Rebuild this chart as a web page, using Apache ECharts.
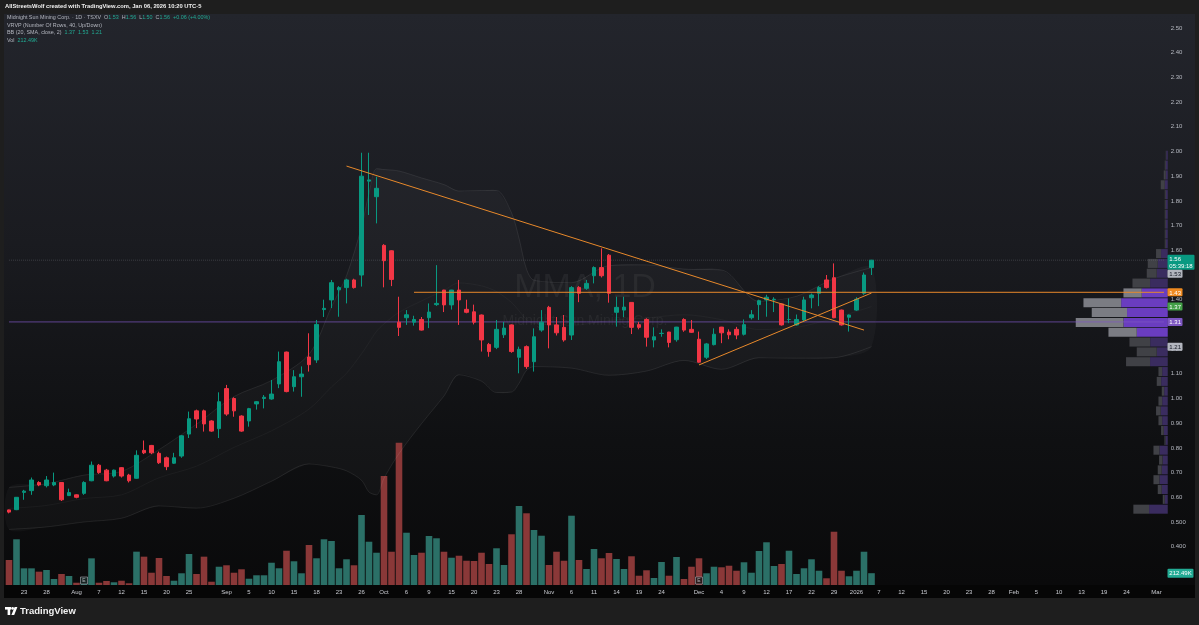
<!DOCTYPE html>
<html>
<head>
<meta charset="utf-8">
<script src="https://cdn.jsdelivr.net/npm/echarts/dist/echarts.min.js"></script>
<style>
html,body{margin:0;padding:0;background:#1e1e1e;width:1199px;height:625px;overflow:hidden}
#area{position:absolute;left:4px;top:14px;width:1191px;height:571px;background:linear-gradient(180deg,#23252c 0%,#1a1b20 40%,#0f1012 75%,#0a0a0b 100%)}
#strip{position:absolute;left:4px;top:585px;width:1191px;height:13px;background:#060606}
#main{position:absolute;left:0;top:0;width:1199px;height:625px}
</style>
</head>
<body>
<div id="area"></div><div id="strip"></div><div id="main"></div>
<script>
// ---------------- DATA ----------------
const dates = [
'2025-07-21','2025-07-22','2025-07-23','2025-07-24','2025-07-25','2025-07-28','2025-07-29','2025-07-30','2025-07-31',
'2025-08-01','2025-08-05','2025-08-06','2025-08-07','2025-08-08','2025-08-11','2025-08-12','2025-08-13','2025-08-14','2025-08-15',
'2025-08-18','2025-08-19','2025-08-20','2025-08-21','2025-08-22','2025-08-25','2025-08-26','2025-08-27','2025-08-28','2025-08-29',
'2025-09-02','2025-09-03','2025-09-04','2025-09-05','2025-09-08','2025-09-09','2025-09-10','2025-09-11','2025-09-12','2025-09-15',
'2025-09-16','2025-09-17','2025-09-18','2025-09-19','2025-09-22','2025-09-23','2025-09-24','2025-09-25','2025-09-26','2025-09-29','2025-09-30',
'2025-10-01','2025-10-02','2025-10-03','2025-10-06','2025-10-07','2025-10-08','2025-10-09','2025-10-10','2025-10-14','2025-10-15',
'2025-10-16','2025-10-17','2025-10-20','2025-10-21','2025-10-22','2025-10-23','2025-10-24','2025-10-27','2025-10-28','2025-10-29','2025-10-30','2025-10-31',
'2025-11-03','2025-11-04','2025-11-05','2025-11-06','2025-11-07','2025-11-10','2025-11-11','2025-11-12','2025-11-13','2025-11-14',
'2025-11-17','2025-11-18','2025-11-19','2025-11-20','2025-11-21','2025-11-24','2025-11-25','2025-11-26','2025-11-27','2025-11-28',
'2025-12-01','2025-12-02','2025-12-03','2025-12-04','2025-12-05','2025-12-08','2025-12-09','2025-12-10','2025-12-11','2025-12-12',
'2025-12-15','2025-12-16','2025-12-17','2025-12-18','2025-12-19','2025-12-22','2025-12-23','2025-12-24','2025-12-29','2025-12-30','2025-12-31',
'2026-01-02','2026-01-05','2026-01-06','2026-01-07','2026-01-08','2026-01-09','2026-01-12','2026-01-13','2026-01-14','2026-01-15','2026-01-16',
'2026-01-19','2026-01-20','2026-01-21','2026-01-22','2026-01-23','2026-01-26','2026-01-27','2026-01-28','2026-01-29','2026-01-30',
'2026-02-02','2026-02-03','2026-02-04','2026-02-05','2026-02-06','2026-02-09','2026-02-10','2026-02-11','2026-02-12','2026-02-13',
'2026-02-17','2026-02-18','2026-02-19','2026-02-20','2026-02-23','2026-02-24','2026-02-25','2026-02-26','2026-02-27','2026-03-02','2026-03-03'];

const tickLabels = [
['2025-07-23','23'],['2025-07-28','28'],['2025-08-01','Aug'],['2025-08-07','7'],['2025-08-12','12'],['2025-08-15','15'],
['2025-08-20','20'],['2025-08-25','25'],['2025-09-02','Sep'],['2025-09-05','5'],['2025-09-10','10'],['2025-09-15','15'],
['2025-09-18','18'],['2025-09-23','23'],['2025-09-26','26'],['2025-10-01','Oct'],['2025-10-06','6'],['2025-10-09','9'],
['2025-10-15','15'],['2025-10-20','20'],['2025-10-23','23'],['2025-10-28','28'],['2025-11-03','Nov'],['2025-11-06','6'],
['2025-11-11','11'],['2025-11-14','14'],['2025-11-19','19'],['2025-11-24','24'],['2025-12-01','Dec'],['2025-12-04','4'],
['2025-12-09','9'],['2025-12-12','12'],['2025-12-17','17'],['2025-12-22','22'],['2025-12-29','29'],['2026-01-02','2026'],
['2026-01-07','7'],['2026-01-12','12'],['2026-01-15','15'],['2026-01-20','20'],['2026-01-23','23'],['2026-01-28','28'],
['2026-02-02','Feb'],['2026-02-05','5'],['2026-02-10','10'],['2026-02-13','13'],['2026-02-19','19'],['2026-02-24','24'],['2026-03-02','Mar']];

const opens = [0.549,0.55,0.62,0.627,0.66,0.647,0.65,0.66,0.607,0.61,
0.616,0.667,0.73,0.71,0.686,0.72,0.69,0.677,0.79,0.81,
0.778,0.76,0.738,0.767,0.856,0.95,0.95,0.909,0.878,1.04,
1.0,0.929,0.909,0.978,1.0,0.998,1.059,1.188,1.048,1.088,
1.168,1.156,1.36,1.399,1.44,1.449,1.48,1.50,1.88,1.817,
1.62,1.598,1.309,1.327,1.309,1.32,1.327,1.38,1.439,1.379,
1.439,1.361,1.351,1.338,1.219,1.207,1.258,1.298,1.167,1.21,
1.149,1.277,1.369,1.298,1.288,1.257,1.45,1.446,1.497,1.53,
1.58,1.349,1.358,1.389,1.299,1.32,1.237,1.263,1.269,1.238,
1.32,1.28,1.24,1.167,1.218,1.289,1.269,1.28,1.26,1.327,
1.38,1.399,1.40,1.383,1.32,1.298,1.318,1.408,1.426,1.48,
1.489,1.358,1.329,1.358,1.426,1.53];
const highs = [0.55,0.60,0.63,0.68,0.665,0.686,0.70,0.662,0.635,0.612,
0.665,0.745,0.735,0.715,0.712,0.722,0.695,0.79,0.83,0.812,
0.785,0.765,0.78,0.852,0.947,0.955,0.955,0.912,1.025,1.055,
1.005,0.932,0.962,0.99,1.014,1.075,1.19,1.19,1.115,1.13,
1.264,1.318,1.40,1.48,1.455,1.485,1.485,1.995,1.995,1.898,
1.625,1.60,1.412,1.358,1.335,1.33,1.385,1.54,1.44,1.44,
1.48,1.40,1.38,1.34,1.225,1.318,1.31,1.30,1.21,1.215,
1.284,1.358,1.375,1.33,1.338,1.455,1.455,1.48,1.535,1.608,
1.585,1.412,1.412,1.39,1.31,1.325,1.288,1.28,1.27,1.29,
1.325,1.318,1.271,1.225,1.284,1.29,1.28,1.29,1.32,1.358,
1.40,1.42,1.41,1.385,1.405,1.34,1.412,1.425,1.455,1.50,
1.547,1.36,1.34,1.41,1.51,1.56];
const lows = [0.535,0.548,0.59,0.61,0.645,0.64,0.645,0.585,0.605,0.596,
0.61,0.665,0.695,0.665,0.68,0.68,0.66,0.675,0.775,0.775,
0.735,0.71,0.735,0.76,0.84,0.88,0.866,0.865,0.84,0.93,
0.926,0.865,0.886,0.955,0.96,0.995,1.042,1.025,1.028,1.007,
1.109,1.144,1.33,1.366,1.331,1.385,1.445,1.453,1.743,1.709,
1.45,1.455,1.253,1.298,1.295,1.275,1.285,1.375,1.35,1.36,
1.298,1.345,1.30,1.19,1.169,1.20,1.245,1.185,1.102,1.12,
1.109,1.27,1.203,1.255,1.23,1.237,1.39,1.44,1.466,1.49,
1.388,1.291,1.329,1.261,1.28,1.21,1.207,1.25,1.207,1.23,
1.27,1.265,1.145,1.16,1.215,1.224,1.24,1.24,1.255,1.32,
1.318,1.331,1.35,1.295,1.305,1.295,1.31,1.365,1.374,1.445,
1.325,1.295,1.271,1.355,1.42,1.50];
const closes = [0.54,0.60,0.625,0.67,0.65,0.67,0.66,0.59,0.619,0.60,
0.66,0.73,0.70,0.667,0.71,0.686,0.667,0.77,0.78,0.78,
0.74,0.724,0.76,0.849,0.918,0.917,0.897,0.868,0.987,0.937,
0.95,0.868,0.959,0.987,1.005,1.018,1.149,1.028,1.088,1.099,
1.137,1.30,1.365,1.469,1.449,1.48,1.449,1.90,1.885,1.851,
1.558,1.482,1.288,1.339,1.32,1.277,1.35,1.385,1.379,1.439,
1.399,1.349,1.309,1.237,1.19,1.28,1.285,1.19,1.199,1.129,
1.25,1.309,1.298,1.266,1.237,1.449,1.426,1.466,1.53,1.497,
1.426,1.369,1.37,1.288,1.288,1.248,1.25,1.264,1.227,1.289,
1.277,1.268,1.147,1.221,1.26,1.266,1.258,1.257,1.299,1.339,
1.396,1.41,1.402,1.298,1.32,1.32,1.399,1.419,1.449,1.449,
1.327,1.298,1.338,1.402,1.50,1.56];
const volumesK = [450,823,300,300,240,270,108,198,162,41,
144,480,41,72,49,77,31,600,510,221,
486,162,77,211,558,198,510,59,329,355,
221,283,113,175,175,401,301,617,427,211,
720,481,823,792,301,463,355,1260,779,581,
1962,599,2561,941,540,581,882,841,599,491,
527,437,432,581,378,661,360,913,1422,1291,
990,887,360,599,437,1247,450,288,648,481,
576,468,288,517,167,265,126,414,167,504,
108,329,481,211,329,319,347,257,409,221,
612,769,342,378,617,198,301,463,257,121,
959,257,157,257,599,212.49];
const earningsDates = ['2025-08-05','2025-12-01'];

// Bollinger Bands (20, SMA, close, 2) at sample bars
const bbIdx   = [0,5,10,15,20,25,30,35,40,43,45,47,48,49,50,52,55,58,60,63,65,67,68,69,70,75,80,85,90,95,100,105,110,115];
const bbUpper = [0.64,0.655,0.69,0.705,0.793,0.896,1.008,1.073,1.179,1.371,1.497,1.694,1.831,1.93,1.927,1.921,1.893,1.866,1.84,1.842,1.842,1.752,1.649,1.524,1.479,1.469,1.538,1.541,1.524,1.52,1.393,1.414,1.485,1.53];
const bbBasis = [0.555,0.567,0.595,0.61,0.679,0.726,0.802,0.869,0.957,1.047,1.102,1.181,1.226,1.272,1.302,1.349,1.395,1.438,1.468,1.456,1.433,1.389,1.355,1.319,1.304,1.296,1.316,1.326,1.339,1.319,1.279,1.288,1.325,1.372];
const bbLower = [0.47,0.48,0.50,0.515,0.565,0.556,0.596,0.665,0.735,0.723,0.707,0.669,0.621,0.61,0.677,0.777,0.898,1.01,1.096,1.07,1.024,1.026,1.061,1.114,1.129,1.123,1.094,1.111,1.154,1.118,1.165,1.163,1.165,1.21];

// Visible-range volume profile (rows from bottom)
const vpRowLow = 0.532, vpRowStep = 0.0398;
const vpUp   = [1570,200,400,600,400,350,600,100,270,370,470,370,240,440,370,2400,2000,2070,2830,4770,3530,3770,1830,1760,1000,1000,500,100,100,100,100,100,100,400,200,100,50];
const vpDown = [1870,300,600,830,600,520,830,230,400,560,700,560,360,660,560,1770,1100,1760,3100,4430,4070,4660,2600,1770,1100,1000,670,200,200,200,200,200,200,300,200,200,150];
const vpValueAreaRows = [18, 22];
const pocPrice = 1.31;

// drawings
const trendDesc = [['2025-09-24', 1.941], ['2026-01-05', 1.277]];
const levelLine = [['2025-10-07', 1.43], ['2026-03-03', 1.43]];
const trendAsc  = [['2025-12-01', 1.136], ['2026-01-06', 1.427]];
const countdown = '05:39:18';

// ---------------- CHART ----------------
const FONT = "'Liberation Sans', Arial, sans-serif";
const UP = '#089981', DOWN = '#f23645', VUP = '#2b7067', VDOWN = '#8a3838';
const ORANGE = '#e8892b';
const LAST = closes.length - 1;
const GL = 5.25, GR = 31.25;
const tickMap = new Map(tickLabels);
const dateIndex = d => dates.indexOf(d);

const chart = echarts.init(document.getElementById('main'), null, {renderer: 'canvas'});

const candleData = opens.map((o, i) => [o, closes[i], lows[i], highs[i]]);
const volData = volumesK.map((v, i) => ({value: v, itemStyle: {color: closes[i] >= opens[i] ? VUP : VDOWN}}));
const pairs = arr => bbIdx.map((ix, k) => [ix, arr[k]]);
const segment = seg => seg.map(p => [dateIndex(p[0]), p[1]]);

const option = {
  animation: false,
  backgroundColor: 'transparent',
  grid: [
    {left: GL, right: GR, top: 3.3, bottom: 28.9},
    {left: GL, right: GR, top: 385, bottom: 40},
    {left: GL, right: GR, top: 585, bottom: 39}
  ],
  xAxis: [
    {type: 'category', gridIndex: 0, data: dates, boundaryGap: true, show: false},
    {type: 'value', gridIndex: 0, min: 0, max: 116250, inverse: true, position: 'top', show: false},
    {type: 'category', gridIndex: 1, data: dates, boundaryGap: true, show: false},
    {type: 'category', gridIndex: 2, data: dates, boundaryGap: true, position: 'bottom',
      axisLine: {show: false}, axisTick: {show: false}, splitLine: {show: false},
      axisLabel: {show: true, interval: (i, v) => tickMap.has(v), formatter: v => tickMap.get(v) || '',
        color: '#c9cbd1', fontSize: 6, fontFamily: FONT, margin: 3, hideOverlap: false}}
  ],
  yAxis: [
    {type: 'value', gridIndex: 0, position: 'right', min: 0.2, max: 2.6, interval: 0.1,
      axisLine: {show: false}, axisTick: {show: false}, splitLine: {show: false},
      axisLabel: {color: '#b7bac2', fontSize: 6, fontFamily: FONT, margin: 3,
        formatter: v => { const r = Math.round(v * 100) / 100; if (r < 0.35 || r > 2.55) return ''; return r < 0.55 ? r.toFixed(3) : r.toFixed(2); }}},
    {type: 'value', gridIndex: 1, min: 0, max: 3600, show: false},
    {type: 'value', gridIndex: 2, min: 0, max: 1, show: false}
  ],
  series: [
    {type: 'custom', name: 'bbfill', xAxisIndex: 0, yAxisIndex: 0, data: [[0, bbBasis[0]]], encode: {x: 0, y: 1}, silent: true, z: 1,
      renderItem: (params, api) => {
        const up = bbIdx.map((ix, k) => api.coord([ix, bbUpper[k]]));
        const lo = bbIdx.map((ix, k) => api.coord([ix, bbLower[k]])).reverse();
        return {type: 'polygon', shape: {points: up.concat(lo), smooth: 0.3},
          style: {fill: 'rgba(255,255,255,0.028)'}};
      }},
    {type: 'line', name: 'bbU', xAxisIndex: 0, yAxisIndex: 0, data: pairs(bbUpper), smooth: 0.3, symbol: 'none', silent: true, z: 2,
      lineStyle: {color: 'rgba(255,255,255,0.08)', width: 1}},
    {type: 'line', name: 'bbL', xAxisIndex: 0, yAxisIndex: 0, data: pairs(bbLower), smooth: 0.3, symbol: 'none', silent: true, z: 2,
      lineStyle: {color: 'rgba(255,255,255,0.08)', width: 1}},
    {type: 'line', name: 'bbB', xAxisIndex: 0, yAxisIndex: 0, data: pairs(bbBasis), smooth: 0.3, symbol: 'none', silent: true, z: 2,
      lineStyle: {color: 'rgba(255,255,255,0.035)', width: 1}},
    {type: 'custom', name: 'vrvp', xAxisIndex: 1, yAxisIndex: 0, encode: {x: 0, y: 1},
      data: vpUp.map((u, r) => [vpUp[r] + vpDown[r], vpRowLow + r * vpRowStep]), silent: true, z: 3,
      renderItem: (params, api) => {
        const r = params.dataIndex;
        const lo = vpRowLow + r * vpRowStep, hi = lo + vpRowStep;
        const inVA = r >= vpValueAreaRows[0] && r <= vpValueAreaRows[1];
        const pBase = api.coord([0, lo]);
        const pDn = api.coord([vpDown[r], hi]);
        const pAll = api.coord([vpDown[r] + vpUp[r], hi]);
        const h = pBase[1] - pDn[1] - 0.8;
        return {type: 'group', children: [
          {type: 'rect', shape: {x: pDn[0], y: pDn[1] + 0.4, width: pBase[0] - pDn[0], height: h},
            style: {fill: inVA ? '#6a3dc0' : '#3a2c5f'}},
          {type: 'rect', shape: {x: pAll[0], y: pDn[1] + 0.4, width: pDn[0] - pAll[0], height: h},
            style: {fill: inVA ? '#7b7c83' : '#404146'}}
        ]};
      }},
    {type: 'candlestick', name: 'MMA', xAxisIndex: 0, yAxisIndex: 0, data: candleData, barWidth: 4, z: 5,
      itemStyle: {color: UP, color0: DOWN, borderColor: UP, borderColor0: DOWN, borderWidth: 1}},
    {type: 'line', name: 'poc', xAxisIndex: 0, yAxisIndex: 0, data: [[0, pocPrice], [dates.length - 1, pocPrice]], symbol: 'none', silent: true, z: 4,
      lineStyle: {color: 'rgba(126,87,194,0.7)', width: 1}},
    {type: 'line', name: 'lastPrice', xAxisIndex: 0, yAxisIndex: 0, data: [[0, closes[LAST]], [dates.length - 1, closes[LAST]]], symbol: 'none', silent: true, z: 4,
      lineStyle: {color: 'rgba(120,123,134,0.35)', width: 1, type: 'dotted'}},
    {type: 'line', name: 'desc', xAxisIndex: 0, yAxisIndex: 0, data: segment(trendDesc), symbol: 'none', silent: true, z: 6,
      lineStyle: {color: ORANGE, width: 1}},
    {type: 'line', name: 'level', xAxisIndex: 0, yAxisIndex: 0, data: segment(levelLine), symbol: 'none', silent: true, z: 6,
      lineStyle: {color: ORANGE, width: 1}},
    {type: 'line', name: 'asc', xAxisIndex: 0, yAxisIndex: 0, data: segment(trendAsc), symbol: 'none', silent: true, z: 6,
      lineStyle: {color: ORANGE, width: 1}},
    {type: 'bar', name: 'Vol', xAxisIndex: 2, yAxisIndex: 1, data: volData, barCategoryGap: '12%', z: 2, silent: true},
    {type: 'scatter', name: 'E', xAxisIndex: 2, yAxisIndex: 1, data: earningsDates.map(d => [dateIndex(d), 0]), silent: true, z: 7,
      symbol: 'rect', symbolSize: [7, 7], symbolOffset: [0, -4.5],
      itemStyle: {color: '#121212', borderColor: '#a3a6ae', borderWidth: 0.8},
      label: {show: true, formatter: 'E', color: '#d1d4dc', fontSize: 5, fontFamily: FONT, position: 'inside'}}
  ]
};
try { chart.setOption(option); } catch (e) { console.error(e); }

// ---------------- TEXT & LABEL BOXES ----------------
const f2 = v => v.toFixed(2);
const chg = closes[LAST] - closes[LAST - 1];
const pct = chg / closes[LAST - 1] * 100;
const chgTxt = (chg >= 0 ? '+' : '') + f2(chg) + ' (' + (pct >= 0 ? '+' : '') + f2(pct) + '%)';
const LFS = 5.4;
const rich = {
  n: {fill: '#b2b5be', fontSize: LFS, fontFamily: FONT},
  v: {fill: '#22ab94', fontSize: LFS, fontFamily: FONT}
};
const els = [];
els.push({type: 'text', x: 5, y: 6.5, z: 100, style: {text: 'AllStreetsWolf created with TradingView.com, Jan 06, 2026 10:20 UTC-5',
  fill: '#f0f0f0', fontSize: 5.8, fontWeight: 'bold', fontFamily: FONT, verticalAlign: 'middle'}});
const legend = [
  '{n|Midnight Sun Mining Corp. · 1D · TSXV}  {n|O}{v|' + f2(opens[LAST]) + '}  {n|H}{v|' + f2(highs[LAST]) + '}  {n|L}{v|' + f2(lows[LAST]) +
    '}  {n|C}{v|' + f2(closes[LAST]) + '}  {v|' + chgTxt + '}',
  '{n|VRVP (Number Of Rows, 40, Up/Down)}',
  '{n|BB (20, SMA, close, 2)}  {v|' + f2(bbBasis[bbBasis.length - 1]) + '}  {v|' + f2(bbUpper[bbUpper.length - 1]) + '}  {v|' + f2(bbLower[bbLower.length - 1]) + '}',
  '{n|Vol}  {v|' + volumesK[LAST].toFixed(2) + 'K}'
];
legend.forEach((t, k) => els.push({type: 'text', x: 7, y: 18 + k * 7.4, z: 100,
  style: {text: t, rich: rich, fontSize: LFS, fontFamily: FONT, verticalAlign: 'middle'}}));

// watermark
els.push({type: 'text', x: 585, y: 288, z: 0, silent: true, style: {text: 'MMA, 1D', fill: 'rgba(255,255,255,0.055)',
  fontSize: 34, fontFamily: FONT, align: 'center', verticalAlign: 'middle'}});
els.push({type: 'text', x: 585, y: 321, z: 0, silent: true, style: {text: 'Midnight Sun Mining Corp.', fill: 'rgba(255,255,255,0.055)',
  fontSize: 14, fontFamily: FONT, align: 'center', verticalAlign: 'middle'}});

// footer logo
els.push({type: 'rect', z: 100, shape: {x: 5, y: 607, width: 6, height: 2.6}, style: {fill: '#fff'}});
els.push({type: 'rect', z: 100, shape: {x: 7.6, y: 607, width: 2.6, height: 8}, style: {fill: '#fff'}});
els.push({type: 'circle', z: 100, shape: {cx: 12.6, cy: 608.4, r: 1.4}, style: {fill: '#fff'}});
els.push({type: 'polygon', z: 100, shape: {points: [[11.4, 615], [14.6, 607], [17.4, 607], [14.2, 615]]}, style: {fill: '#fff'}});
els.push({type: 'text', x: 20, y: 611.5, z: 100, style: {text: 'TradingView', fill: '#f2f2f2', fontSize: 9.5, fontWeight: 'bold',
  fontFamily: FONT, verticalAlign: 'middle'}});

// price-scale label boxes
const BX = 1167.5;
const boxes = [
  {price: closes[LAST], text: f2(closes[LAST]) + '\n' + countdown, bg: '#089981', fg: '#ffffff', w: 27, h: 15, off: 5.5},
  {price: bbUpper[bbUpper.length - 1], text: f2(bbUpper[bbUpper.length - 1]), bg: '#b2b5be', fg: '#131722', w: 15, h: 8},
  {price: levelLine[0][1], text: f2(levelLine[0][1]), bg: '#ef8a20', fg: '#ffffff', w: 15, h: 8},
  {price: bbBasis[bbBasis.length - 1], text: f2(bbBasis[bbBasis.length - 1]), bg: '#43a047', fg: '#ffffff', w: 15, h: 8},
  {price: pocPrice, text: f2(pocPrice), bg: '#7e57c2', fg: '#ffffff', w: 15, h: 8},
  {price: bbLower[bbLower.length - 1], text: f2(bbLower[bbLower.length - 1]), bg: '#b2b5be', fg: '#131722', w: 15, h: 8}
];
let vy = 573;
try {
  boxes.forEach(b => { const y = chart.convertToPixel({yAxisIndex: 0}, b.price); b.top = y - (b.off != null ? b.off : b.h / 2); });
  vy = chart.convertToPixel({yAxisIndex: 1}, volumesK[LAST]);
} catch (e) { console.error(e); }
boxes.sort((a, b) => a.top - b.top);
let prevBottom = -1e9;
boxes.forEach(b => {
  if (b.top < prevBottom) b.top = prevBottom;
  prevBottom = b.top + b.h;
  els.push({type: 'rect', z: 200, shape: {x: BX, y: b.top, width: b.w, height: b.h, r: 1}, style: {fill: b.bg}});
  els.push({type: 'text', z: 201, x: BX + 1.8, y: b.top + 1.2, style: {text: b.text, fill: b.fg, fontSize: 6, lineHeight: 6.8,
    fontFamily: FONT, verticalAlign: 'top'}});
});
els.push({type: 'rect', z: 200, shape: {x: BX, y: vy - 4.5, width: 26, height: 9, r: 1}, style: {fill: '#22ab94'}});
els.push({type: 'text', z: 201, x: BX + 1.8, y: vy, style: {text: volumesK[LAST].toFixed(2) + 'K', fill: '#ffffff', fontSize: 6,
  fontFamily: FONT, verticalAlign: 'middle'}});

chart.setOption({graphic: {elements: els}});
</script>
</body>
</html>
